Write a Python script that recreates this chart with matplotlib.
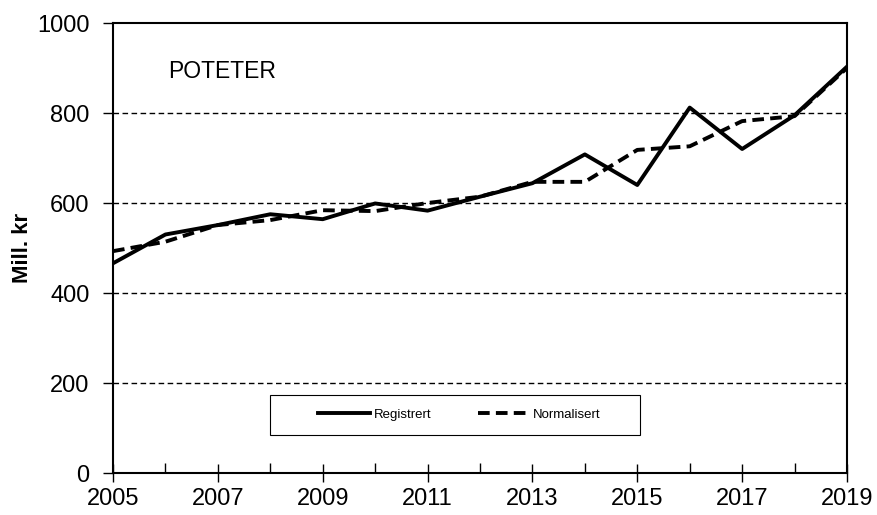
import matplotlib
matplotlib.use("Agg")
import matplotlib.pyplot as plt
from matplotlib.patches import Rectangle

plt.rcParams["font.family"] = ["Liberation Sans", "DejaVu Sans"]

years = [2005, 2006, 2007, 2008, 2009, 2010, 2011, 2012, 2013, 2014, 2015, 2016, 2017, 2018, 2019]
registrert = [466, 530, 551, 575, 564, 599, 583, 614, 644, 708, 640, 812, 720, 795, 903]
normalisert = [493, 514, 551, 562, 584, 582, 600, 614, 647, 647, 718, 726, 782, 793, 900]

fig = plt.figure(figsize=(8.78, 5.15), dpi=100)
ax = fig.add_axes([113 / 878, 1 - 473 / 515, 734 / 878, 450 / 515])

ax.plot(years, registrert, color="black", lw=2.8, label="Registrert")
ax.plot(years, normalisert, color="black", lw=2.8, ls=(0, (3, 1.6)), label="Normalisert")

ax.set_xlim(2005, 2019)
ax.set_ylim(0, 1000)
ax.set_xticks(years[::2])
ax.set_xticks(years, minor=True)
ax.set_yticks([0, 200, 400, 600, 800, 1000])

for y in [200, 400, 600, 800]:
    ax.axhline(y, color="black", lw=1.0, ls=(0, (4, 2.5)), zorder=0)

ax.tick_params(axis="y", direction="out", length=7, width=1, labelsize=17, pad=10)
ax.tick_params(axis="x", which="major", direction="inout", length=13, width=1, labelsize=17, pad=4)
ax.tick_params(axis="x", which="minor", direction="in", length=7, width=1)

for s in ax.spines.values():
    s.set_linewidth(1.5)
    s.set_color("black")

ax.set_ylabel("Mill. kr", fontsize=16, fontweight="bold", labelpad=3)
ax.text(0.075, 0.892, "POTETER", transform=ax.transAxes, fontsize=16.5, ha="left", va="center")

ax.add_patch(Rectangle((0.214, 0.084), 0.504, 0.089, transform=ax.transAxes,
                       facecolor="white", edgecolor="black", lw=0.8, zorder=3))
leg = ax.legend(loc="center", bbox_to_anchor=(0.472, 0.129), ncol=2, fontsize=9.5,
                frameon=False, handlelength=3.9, handletextpad=0.3, columnspacing=3.5,
                borderaxespad=0)
leg.set_zorder(4)

fig.savefig("out.png", dpi=100)
